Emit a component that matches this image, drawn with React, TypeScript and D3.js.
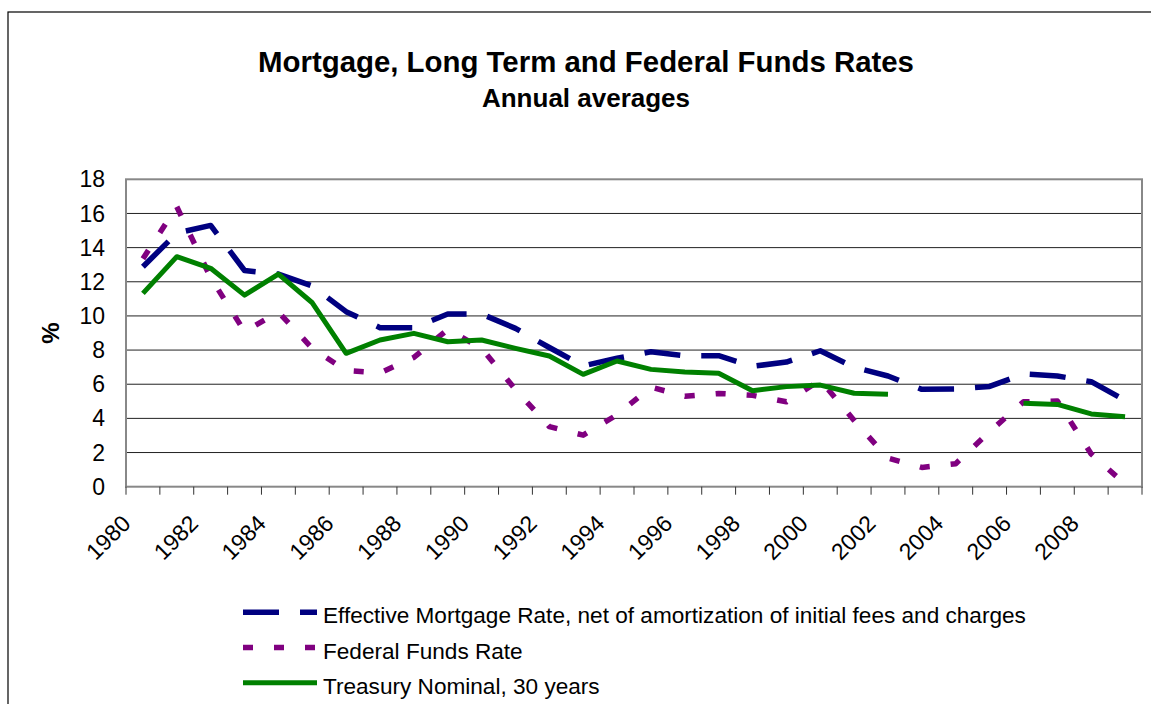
import React from "react";
import * as d3 from "d3";

const years = [
  1980, 1981, 1982, 1983, 1984, 1985, 1986, 1987, 1988, 1989,
  1990, 1991, 1992, 1993, 1994, 1995, 1996, 1997, 1998, 1999,
  2000, 2001, 2002, 2003, 2004, 2005, 2006, 2007, 2008, 2009,
];
const mortgage = [
  12.88, 14.85, 15.3, 12.66, 12.45, 11.75, 10.25, 9.31, 9.31, 10.11,
  10.11, 9.27, 8.15, 7.07, 7.52, 7.9, 7.67, 7.67, 7.05, 7.3,
  7.96, 6.99, 6.48, 5.7, 5.72, 5.87, 6.6, 6.48, 6.15, 5.05,
];
const fedFunds = [
  13.35, 16.39, 12.24, 9.09, 10.23, 8.1, 6.8, 6.66, 7.57, 9.21,
  8.1, 5.69, 3.52, 3.02, 4.21, 5.83, 5.3, 5.46, 5.35, 4.97,
  6.24, 3.88, 1.67, 1.13, 1.35, 3.22, 4.97, 5.02, 1.92, 0.16,
];
const treasury: (number | null)[] = [
  11.32, 13.47, 12.79, 11.22, 12.45, 10.77, 7.81, 8.59, 8.98, 8.49,
  8.59, 8.1, 7.65, 6.58, 7.36, 6.87, 6.71, 6.64, 5.62, 5.86,
  5.95, 5.47, 5.41, null, null, null, 4.88, 4.82, 4.26, 4.1,
];
const yTicks = [0, 2, 4, 6, 8, 10, 12, 14, 16, 18];
const xLabelYears = [1980, 1982, 1984, 1986, 1988, 1990, 1992, 1994, 1996, 1998, 2000, 2002, 2004, 2006, 2008];

const title = "Mortgage, Long Term and Federal Funds Rates";
const subtitle = "Annual averages";
const yAxisTitle = "%";
const seriesNames = [
  "Effective Mortgage Rate, net of amortization of initial fees and charges",
  "Federal Funds Rate",
  "Treasury Nominal, 30 years",
];

const FONT = "'Liberation Sans', Arial, sans-serif";

export default function App() {
  const left = 126, right = 1142, top = 179.3, bottom = 486.7;
  const x = d3.scaleBand<number>().domain(years).range([left, right]);
  const y = d3.scaleLinear().domain([0, 18]).range([bottom, top]);
  const cx = (yr: number) => (x(yr) as number) + x.bandwidth() / 2;

  const mkLine = (vals: (number | null)[]) =>
    d3
      .line<number>()
      .defined((_, i) => vals[i] !== null)
      .x((yr) => cx(yr))
      .y((_, i) => y(vals[i] as number))(years) as string;

  const series = [
    { name: seriesNames[0], vals: mortgage, color: "#000080", width: 5.5, dash: "36 21" },
    { name: seriesNames[1], vals: fedFunds, color: "#800080", width: 5.5, dash: "10 21" },
    { name: seriesNames[2], vals: treasury, color: "#008000", width: 5, dash: undefined },
  ];

  const boundaries = [...years.map((yr) => x(yr) as number), right];

  return (
    <svg
      width={1151}
      height={704}
      style={{ position: "absolute", left: 0, top: 0, display: "block", background: "#fff" }}
      fontFamily={FONT}
    >
      <rect x={8} y={12} width={1160} height={720} fill="#fff" stroke="#000" strokeWidth={1.2} />
      <text x={586} y={72} textAnchor="middle" fontSize={29.4} fontWeight="bold">{title}</text>
      <text x={586} y={107} textAnchor="middle" fontSize={26} fontWeight="bold">{subtitle}</text>

      {yTicks.map((t) =>
        t > 0 && t < 18 ? (
          <line key={"g" + t} x1={left} x2={right} y1={y(t)} y2={y(t)} stroke="#222" strokeWidth={1} />
        ) : null
      )}
      <rect x={left} y={top} width={right - left} height={bottom - top} fill="none" stroke="#888" strokeWidth={2} />
      {boundaries.map((bx, i) => (
        <line key={"t" + i} x1={bx} x2={bx} y1={bottom} y2={bottom + 8} stroke="#333" strokeWidth={1} />
      ))}
      {yTicks.map((t) => (
        <text key={"yl" + t} x={105} y={y(t)} dy="0.35em" textAnchor="end" fontSize={23}>{t}</text>
      ))}
      {xLabelYears.map((yr) => (
        <text
          key={"xl" + yr}
          transform={`translate(${cx(yr) - 11},${525}) rotate(-45)`}
          textAnchor="end"
          fontSize={23}
        >
          {yr}
        </text>
      ))}
      <text transform={`translate(59,${(top + bottom) / 2}) rotate(-90)`} textAnchor="middle" fontSize={24} fontWeight="bold">
        {yAxisTitle}
      </text>

      {series.map((s) => (
        <path
          key={s.name}
          d={mkLine(s.vals)}
          fill="none"
          stroke={s.color}
          strokeWidth={s.width}
          strokeDasharray={s.dash}
          strokeLinejoin="round"
        />
      ))}

      {series.map((s, i) => {
        const ly = 612.3 + i * 35.2;
        return (
          <g key={"lg" + i}>
            <line x1={243} x2={317} y1={ly} y2={ly} stroke={s.color} strokeWidth={s.width} strokeDasharray={s.dash} />
            <text x={323} y={ly + 11} fontSize={22.6}>{s.name}</text>
          </g>
        );
      })}
    </svg>
  );
}
